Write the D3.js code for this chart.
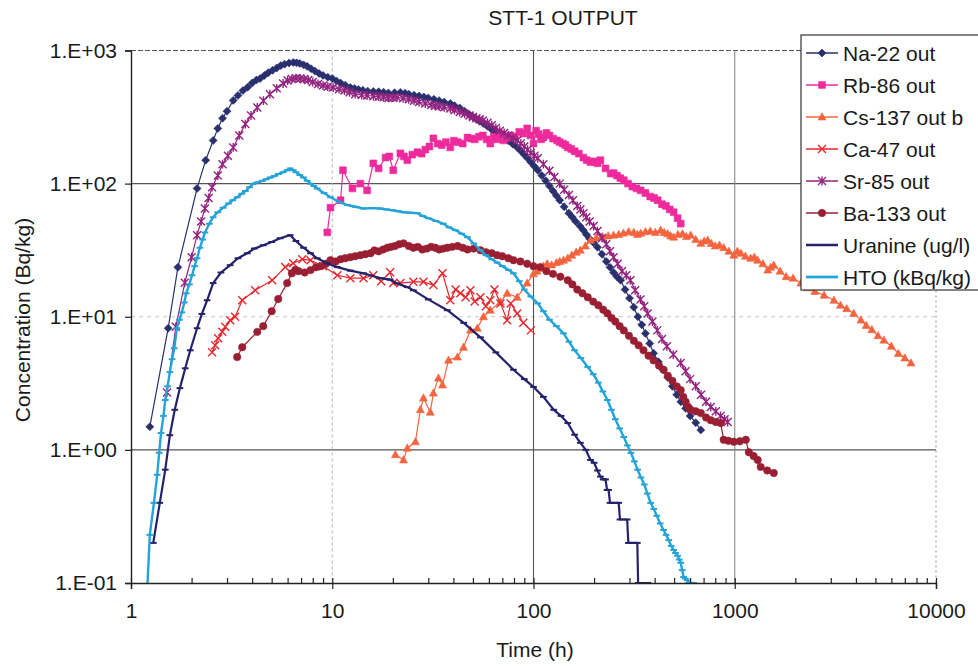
<!DOCTYPE html>
<html><head><meta charset="utf-8">
<script src="https://cdn.jsdelivr.net/npm/d3@7/dist/d3.min.js"></script>
<style>
html,body{margin:0;padding:0;background:#fff;}
svg text{font-family:"Liberation Sans",Arial,Helvetica,sans-serif;fill:#1a1a1a;}
</style></head>
<body><svg id="c" width="978" height="666"></svg>
<script>
// ---------- DATA (time h, concentration) ----------
const title = "STT-1 OUTPUT";
const xTitle = "Time (h)";
const yTitle = "Concentration (Bq/kg)";
const xTicks = [1, 10, 100, 1000, 10000];
const xTickLabels = ["1", "10", "100", "1000", "10000"];
const yTicks = [0.1, 1, 10, 100, 1000];
const yTickLabels = ["1.E-01", "1.E+00", "1.E+01", "1.E+02", "1.E+03"];
const seriesNames = ["Na-22 out","Rb-86 out","Cs-137 out b","Ca-47 out","Sr-85 out","Ba-133 out","Uranine (ug/l)","HTO (kBq/kg)"];

const na22 = [[1.24,1.49],[1.53,8.2],[1.71,23.5],[2.13,92],[2.35,150],[2.56,211],[2.7,260],[2.85,310],[3.0,350],[3.22,422],[3.4,460],[3.6,500],[3.8,530],[4.0,570],[4.2,600],[4.38,616],[4.6,650],[4.8,680],[5.05,710],[5.3,740],[5.55,770],[5.8,790],[6.1,805],[6.4,813],[6.65,808],[6.9,800],[7.2,780],[7.5,760],[7.85,730],[8.2,700],[8.6,672],[9.0,650],[9.5,630],[10,616],[10.5,590],[11,570],[11.6,548],[12.3,527],[12.9,518],[13.5,510],[14.2,502],[15,495],[16,492],[17,490],[18,486],[19,480],[20.4,482],[21.8,484],[23,478],[24,470],[25.5,462],[27,455],[28.5,448],[30,440],[32,430],[34,420],[36,410],[38.6,400],[40.5,385],[43,370],[45.5,350],[48,330],[50,318],[52,305],[54,294],[56.4,283],[59,270],[62,255],[65,242],[68,230],[71.5,220],[75,210],[79,198],[83,187],[86.5,176],[90,165],[93.5,155],[97,145],[101,135],[105,126],[110,115],[115,105],[120,96],[125,88],[130,81],[135,75],[142,67],[150,60],[156,56],[162,52],[170,48],[177,44.7],[183,41.5],[190,38.5],[199,36],[208,33.3],[219,29.5],[230,26],[240,23.5],[250,21.5],[260,20],[271,18.8],[285,16],[300,13.8],[315,11.8],[330,10],[345,8.7],[360,7.5],[378,6.3],[395,5.33],[417,4.6],[440,4],[465,3.5],[490,3],[515,2.6],[540,2.3],[570,2.05],[600,1.8],[640,1.6],[678,1.41]];

const rb86 = [[9.45,43],[9.8,66],[11,75],[11.3,126],[12.6,92],[13.8,100],[14.9,89],[16,142],[17,130],[18.4,157],[19.2,160],[20.1,126],[21.8,169],[22.7,160],[23.6,150],[25,165],[26.5,172],[27.8,168],[29,180],[30.4,190],[31.8,219],[33.4,200],[35,195],[36.7,205],[38.6,187],[40.2,210],[42,205],[44.5,200],[47,222],[49,218],[51,215],[53.5,225],[56,230],[58.5,215],[61,200],[63.5,225],[66,215],[68.5,235],[71,211],[74,220],[77,230],[81,225],[85,245],[89,238],[93,260],[96.5,230],[100,200],[103,250],[106,235],[109,215],[112,222],[116,240],[120,230],[125,218],[131,211],[135,205],[140,200],[144,195],[148,187],[154,182],[160,175],[168,168],[177,157],[184,150],[192,145],[200,147],[208,142],[215,150],[228,130],[242,119],[250,120],[260,115],[270,110],[281,106],[295,100],[310,95],[325,92],[341,89],[360,85],[380,80],[397,78],[414,75],[435,70],[455,68],[475,64],[497,61],[520,55],[539,50]];

const cs137 = [[20.6,0.92],[22.6,0.84],[23.6,1.03],[25.9,1.15],[27.4,2.0],[28.4,2.45],[30.7,1.92],[31.8,2.67],[33.7,3.46],[35.3,3.07],[37.8,4.72],[41.9,4.98],[44.9,5.9],[48.6,7.94],[52.6,8.2],[56.4,10],[61,11.2],[68.5,12.9],[74,15],[83,14],[93,17.9],[100,21],[104,22],[108,23],[112,24],[117,25],[123,24.5],[130,25.5],[135,26],[141,26.6],[148,27.5],[155,29],[163,30.5],[171,31.6],[181,34],[192,37.6],[205,39],[220,40],[235,40.5],[250,41],[265,41.5],[280,42.5],[297,43.5],[315,43],[328,41.5],[341,42.4],[360,43.5],[380,44],[403,43],[428,44.7],[446,43],[464,42],[480,40.5],[497,39.6],[522,41.5],[550,42],[575,40],[604,41],[640,38],[678,35.6],[705,37],[734,37.6],[765,35.5],[800,34],[840,34.5],[881,33],[935,31],[989,29],[1030,31],[1072,30],[1130,28.5],[1200,27.5],[1250,28],[1300,26.6],[1380,25],[1459,22.4],[1510,23.5],[1563,24.4],[1680,22],[1800,20],[1950,19.5],[2130,17.9],[2300,16.5],[2500,15.5],[2780,14.5],[3110,13.3],[3350,12.2],[3600,11.5],[3900,10.6],[4240,9.44],[4500,8.6],[4800,8],[5150,7.2],[5510,6.67],[6000,6.0],[6500,5.3],[7000,4.9],[7510,4.49]];

const ca47 = [[2.53,5.42],[2.62,6.1],[2.71,6.9],[2.84,7.7],[2.94,8.4],[3.11,9.4],[3.29,10],[3.57,13.3],[4.14,15.8],[5.03,18.8],[5.84,23.6],[6.4,25.2],[7.1,27],[7.8,26.6],[9,24],[10.6,20.5],[12.3,19.5],[14.3,19.5],[16,20.5],[17.5,18.5],[19.4,21.6],[20.1,17.9],[21.8,17.9],[25.3,18.3],[28.4,18.3],[31.8,17.3],[35.3,21.2],[38.6,13.3],[41,16],[43.3,15],[46,14],[48.6,15.8],[51,13],[54.5,14],[58,12],[61,13.3],[64,16],[68.5,12.6],[74,9.4],[77,12.6],[83,10.6],[89,9],[97,7.9]];

const sr85 = [[1.51,2.7],[1.67,8.4],[1.85,18],[2.0,28],[2.13,41],[2.23,52],[2.33,65],[2.43,78],[2.53,94],[2.7,115],[2.85,140],[3.03,162],[3.22,187],[3.45,230],[3.7,280],[3.95,325],[4.24,373],[4.55,420],[4.9,470],[5.3,520],[5.7,565],[6.0,595],[6.3,610],[6.6,620],[6.93,616],[7.25,608],[7.6,600],[8.0,580],[8.5,560],[9.0,545],[9.5,535],[10.1,527],[10.8,512],[11.5,500],[12.2,485],[13,470],[14,463],[14.9,459],[16,454],[17,450],[18,445],[19,440],[20,442],[21,444],[22.5,437],[24,430],[25.5,420],[27,410],[29,400],[31,390],[32.5,385],[34,380],[36,374],[38.6,367],[40.5,356],[43,345],[45.5,335],[48,325],[50,317],[52,310],[54,304],[56,298],[59,287],[62,275],[65,262],[68,250],[71.5,240],[75,230],[79,220],[83,211],[86.5,200],[90,190],[93.5,180],[97,170],[101,162],[105,155],[112,140],[120,125],[127,112],[135,100],[142,90],[150,82],[157,75],[165,68],[171,64],[177,60],[183,56],[190,52],[199,48],[208,44],[219,39],[230,35],[240,31],[250,28],[262,25],[275,22],[289,20.5],[303,18.8],[320,15.8],[340,13.5],[355,12],[369,10.6],[390,9.2],[412,7.9],[435,6.8],[460,6],[495,5.2],[539,4.5],[570,3.9],[600,3.4],[640,3.0],[680,2.6],[720,2.3],[760,2.1],[805,1.95],[850,1.8],[890,1.7],[922,1.62]];

const ba133 = [[3.37,4.98],[3.57,5.9],[4.24,7.7],[4.54,8.5],[5.0,11],[5.39,13.6],[5.97,17.9],[6.3,21.2],[6.55,22.5],[6.8,22],[7.3,21.5],[7.8,22.4],[8.3,23.5],[8.8,24],[9.3,25],[9.8,26.6],[10.4,26],[11,27],[11.6,27.5],[12.3,28],[13,28.5],[13.8,29],[14.6,29.5],[15.5,30],[16.2,31.5],[17,31],[17.9,32],[18.8,33],[19.6,33.5],[20.5,34],[21.5,35],[22.6,35.6],[24,34],[25.3,33],[26.6,33.5],[28,32],[29.5,32.5],[31,33.5],[32.5,33],[34,32],[35.6,32.5],[37.3,33],[39.5,33.5],[42,34],[44.5,33],[47,32],[50.5,32.5],[54.5,31.6],[58,30.5],[62,30],[66,29],[70,28.5],[75,27.5],[79.5,26.6],[86,26],[93,25],[100,24],[108,23.6],[116,22],[125,21],[136,20],[148,18.8],[156,17.5],[165,16],[175,15],[186,14],[198,13],[210,12.2],[222,11.3],[233,10.6],[244,9.8],[255,9.2],[268,8.5],[281,7.9],[298,7.2],[315,6.6],[333,6.1],[352,5.6],[373,5.1],[395,4.7],[420,4.3],[443,4.0],[465,3.6],[490,3.3],[515,3.0],[539,2.81],[555,2.5],[570,2.3],[587,2.1],[604,2.0],[640,1.95],[678,1.89],[720,1.75],[760,1.67],[805,1.62],[851,1.59],[881,1.19],[930,1.17],[989,1.15],[1060,1.16],[1135,1.19],[1175,0.96],[1240,0.9],[1300,0.84],[1346,0.745],[1450,0.7],[1563,0.67]];

const uranine = [[1.29,0.2],[1.39,0.4],[1.48,0.71],[1.56,1.29],[1.65,2.0],[1.75,2.91],[1.86,4.1],[1.97,5.6],[2.13,8.2],[2.25,10.5],[2.39,13.3],[2.56,17.9],[2.8,21.5],[3.11,24.4],[3.4,27.5],[3.78,30],[4.1,32.5],[4.54,34.4],[5.0,36.5],[5.51,38.9],[6.18,41],[6.6,37],[7.2,33],[7.8,30],[8.42,27.5],[9.4,25.2],[10.6,23.6],[12.3,22.2],[14.3,21.2],[17.3,19.5],[19.4,19],[21,17.8],[23.6,16.7],[25.3,15.8],[30,13.5],[37.3,11.2],[45,9],[54.5,7.0],[65,5.4],[79.5,4.0],[90,3.4],[100,2.97],[112,2.5],[126,2.0],[137,1.8],[148,1.59],[160,1.3],[171,1.13],[182,1.0],[192,0.84],[200,0.8],[208,0.7],[215,0.63],[222,0.6],[228,0.6],[232,0.5],[236,0.5],[240,0.4],[265,0.4],[269,0.3],[292,0.3],[296,0.2],[328,0.2],[331,0.1],[370,0.1]];

const hto = [[1.2,0.08],[1.24,0.23],[1.3,0.4],[1.35,0.65],[1.38,0.95],[1.41,1.34],[1.45,1.8],[1.48,2.37],[1.52,3.0],[1.56,3.84],[1.6,4.8],[1.64,5.8],[1.69,8.2],[1.74,9.5],[1.79,10.8],[1.84,12.8],[1.88,15],[1.95,17.5],[2.01,20.5],[2.07,24],[2.13,27.5],[2.2,33],[2.27,38],[2.33,43],[2.45,50],[2.56,56],[2.7,61],[2.87,66],[3.05,71],[3.2,75],[3.37,79],[3.55,84],[3.7,88],[3.88,94],[4.05,100],[4.25,102],[4.5,105],[4.7,108],[4.92,111],[5.15,114],[5.4,118],[5.7,122],[5.97,126],[6.18,130],[6.4,126],[6.6,122],[6.9,116],[7.2,111],[7.5,105],[7.8,100],[8.1,96],[8.42,92],[9.1,85],[9.8,79],[10.8,73],[11.9,69],[13,67],[14.3,65],[15.7,65.5],[17.3,65],[18.6,64],[20,63],[21.3,62],[22.6,61],[24.5,60.5],[26.5,60],[28.2,57],[30,55],[32.7,52.5],[35.6,50],[38,47],[41,44.7],[44,42],[47,39.5],[50.5,35.5],[54.5,31.6],[58,29],[62,27],[66,25.5],[70,24],[75,22.5],[79.5,21.2],[85,18.5],[90,16],[97,14.2],[105,12.6],[112,11],[120,9.5],[130,8.5],[141,7.5],[150,6.5],[160,5.6],[172,4.9],[186,4.2],[198,3.7],[210,3.2],[221,2.75],[233,2.37],[244,2.0],[255,1.7],[268,1.45],[281,1.25],[293,1.08],[305,0.95],[317,0.82],[329,0.71],[342,0.62],[355,0.55],[368,0.47],[382,0.4],[396,0.36],[410,0.32],[426,0.28],[443,0.25],[456,0.23],[470,0.21],[483,0.19],[497,0.177],[508,0.168],[520,0.16],[530,0.15],[539,0.142],[548,0.125],[557,0.111],[568,0.108],[580,0.105],[592,0.1],[604,0.1],[625,0.1]];

// ---------- LAYOUT / STYLE ----------
const L = 131, R = 936, T = 50.5, B = 583;
const FONT = 21;
const svg = d3.select("#c");
const x = d3.scaleLog().domain([1, 10000]).range([L, R]);
const y = d3.scaleLog().domain([0.1, 1000]).range([B, T]);

const styles = [
  {data: na22, color: "#2a2f6e", marker: "diamond", lw: 1.2},
  {data: rb86, color: "#ef2a9c", marker: "square", lw: 1.2},
  {data: cs137, color: "#f4643e", marker: "triangle", lw: 1.2},
  {data: ca47, color: "#e8262e", marker: "x", lw: 1.2},
  {data: sr85, color: "#93237f", marker: "star", lw: 1.2},
  {data: ba133, color: "#9a1f33", marker: "circle", lw: 1.2},
  {data: uranine, color: "#24226a", marker: "dash", lw: 2.2},
  {data: hto, color: "#24a3d8", marker: "dash", lw: 2.4}
];

// gridlines
const grid = svg.append("g");
const hGrid = [{v:1000, c:"#555", d:"5,2"}, {v:100, c:"#555", d:null}, {v:10, c:"#c8c8c8", d:"4,4"}, {v:1, c:"#555", d:null}];
hGrid.forEach(g => grid.append("line").attr("x1", L).attr("x2", R).attr("y1", y(g.v)).attr("y2", y(g.v))
  .attr("stroke", g.c).attr("stroke-width", 1.2).attr("stroke-dasharray", g.d));
const vGrid = [{v:10, c:"#bbb", d:"3,3"}, {v:100, c:"#555", d:null}, {v:1000, c:"#888", d:null}, {v:10000, c:"#999", d:"2,3"}];
vGrid.forEach(g => grid.append("line").attr("y1", T).attr("y2", B).attr("x1", x(g.v)).attr("x2", x(g.v))
  .attr("stroke", g.c).attr("stroke-width", 1.1).attr("stroke-dasharray", g.d));

// clip
svg.append("clipPath").attr("id", "clip").append("rect").attr("x", L).attr("y", T - 10).attr("width", R - L + 5).attr("height", B - T + 11);

function markerPath(type, s) {
  switch (type) {
    case "diamond": return `M0,${-s}L${s},0L0,${s}L${-s},0Z`;
    case "square": return `M${-s*0.85},${-s*0.85}h${s*1.7}v${s*1.7}h${-s*1.7}Z`;
    case "triangle": return `M0,${-s*1.05}L${s},${s*0.75}L${-s},${s*0.75}Z`;
    case "circle": return d3.symbol(d3.symbolCircle, Math.PI*s*s*0.95)();
    case "x": return `M${-s},${-s}L${s},${s}M${-s},${s}L${s},${-s}`;
    case "star": return `M${-s},${-s}L${s},${s}M${-s},${s}L${s},${-s}M0,${-s*1.1}V${s*1.1}`;
    case "dash": return `M${-s*0.8},0H${s*0.8}`;
  }
}
function drawMarkers(g, type, color, pts) {
  const filled = ["diamond","square","triangle","circle"].includes(type);
  const s = type === "dash" ? 4.2 : (type === "circle" ? 3.8 : 4);
  g.selectAll(null).data(pts).enter().append("path")
    .attr("transform", d => `translate(${d[0]},${d[1]})`)
    .attr("d", markerPath(type, s))
    .attr("fill", filled ? color : "none")
    .attr("stroke", color)
    .attr("stroke-width", filled ? 0.6 : (type === "dash" ? 2 : 1.4));
}

const plot = svg.append("g").attr("clip-path", "url(#clip)");
const line = d3.line().x(d => x(d[0])).y(d => y(d[1]));
styles.forEach(st => {
  const g = plot.append("g");
  g.append("path").datum(st.data).attr("d", line).attr("fill", "none")
    .attr("stroke", st.color).attr("stroke-width", st.lw).attr("stroke-linejoin", "round");
  drawMarkers(g, st.marker, st.color, st.data.map(d => [x(d[0]), y(d[1])]));
});

// axes
const minor = [];
for (let p = 0; p < 4; p++) for (let k = 2; k <= 9; k++) minor.push(k * Math.pow(10, p));
const xAxis = svg.append("g").attr("transform", `translate(0,${B})`)
  .call(d3.axisBottom(x).tickValues(xTicks).tickFormat((d, i) => xTickLabels[i]).tickSize(6).tickPadding(14));
svg.append("g").attr("transform", `translate(0,${B})`)
  .call(d3.axisBottom(x).tickValues(xTicks).tickFormat("").tickSize(-5).tickSizeOuter(0));
svg.append("g").attr("transform", `translate(0,${B})`)
  .call(d3.axisBottom(x).tickValues(minor).tickFormat("").tickSize(-5).tickSizeOuter(0));
const yAxis = svg.append("g").attr("transform", `translate(${L},0)`)
  .call(d3.axisLeft(y).tickValues(yTicks).tickFormat((d, i) => yTickLabels[i]).tickSize(6).tickPadding(8));
svg.selectAll(".domain").attr("stroke", "#222").attr("stroke-width", 1.4);
svg.selectAll(".tick line").attr("stroke", "#222").attr("stroke-width", 1.2);
svg.selectAll(".tick text").attr("font-size", FONT).attr("fill", "#1a1a1a")
  .style("font-family", '"Liberation Sans",Arial,sans-serif');
svg.selectAll(".domain").filter(function(){return this.parentNode !== xAxis.node() && this.parentNode !== yAxis.node();}).remove();

// titles
svg.append("text").attr("x", 563).attr("y", 25).attr("text-anchor", "middle").attr("font-size", FONT).text(title);
svg.append("text").attr("x", 535).attr("y", 657).attr("text-anchor", "middle").attr("font-size", FONT).text(xTitle);
svg.append("text").attr("transform", "translate(30,320) rotate(-90)").attr("text-anchor", "middle").attr("font-size", FONT).text(yTitle);

// legend
const lg = svg.append("g");
lg.append("rect").attr("x", 801).attr("y", 35).attr("width", 200).attr("height", 255)
  .attr("fill", "#fff").attr("stroke", "#333").attr("stroke-width", 1.2);
styles.forEach((st, i) => {
  const cy = 53 + i * 32;
  lg.append("line").attr("x1", 806).attr("x2", 838).attr("y1", cy).attr("y2", cy)
    .attr("stroke", st.color).attr("stroke-width", st.lw + 0.3);
  if (st.marker !== "dash") drawMarkers(lg, st.marker, st.color, [[822, cy]]);
  lg.append("text").attr("x", 843).attr("y", cy + 7.5).attr("font-size", FONT).text(seriesNames[i]);
});
</script></body></html>
